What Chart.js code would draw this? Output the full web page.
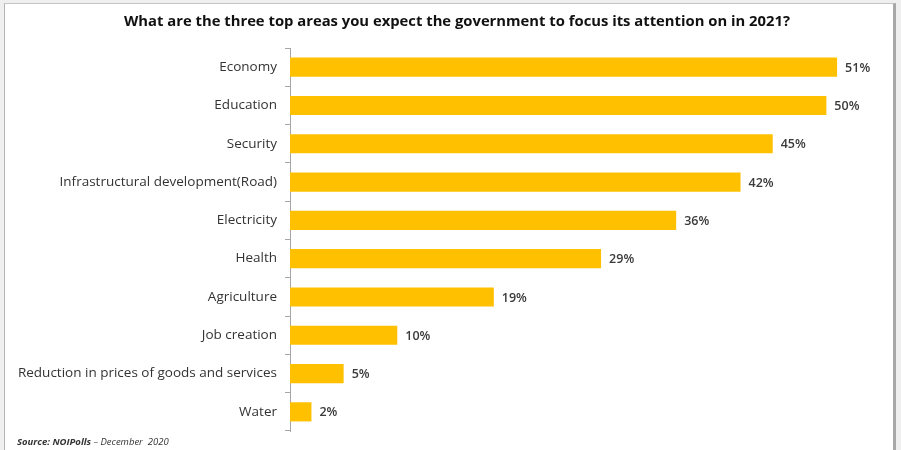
<!DOCTYPE html>
<html>
<head>
<meta charset="utf-8">
<script src="https://cdn.jsdelivr.net/npm/chart.js@4.4.1/dist/chart.umd.min.js"></script>
<style>
  html, body { margin: 0; padding: 0; background: #efefef; }
  #frame {
    position: absolute; left: 4px; top: 3px;
    width: 888px; height: 447px;
    background: #fff;
    border-left: 1px solid #b5b5b5;
    border-top: 1px solid #c4c4c4;
    border-right: 3px solid #a8a8a8;
  }
  canvas { display: block; }
</style>
</head>
<body>
<div id="frame"><canvas id="chart" width="888" height="447"></canvas></div>
<script>
// Chart data
const categories = [
  'Economy',
  'Education',
  'Security',
  'Infrastructural development(Road)',
  'Electricity',
  'Health',
  'Agriculture',
  'Job creation',
  'Reduction in prices of goods and services',
  'Water'
];
const percentages = [51, 50, 45, 42, 36, 29, 19, 10, 5, 2];

const titleText = 'What are the three top areas you expect the government to focus its attention on in 2021?';
const sourceBold = 'Source: NOIPolls';
const sourceRest = ' \u2013 December  2020';

// Title, value labels after each bar, and the source line
const annotations = {
  id: 'annotations',
  afterDatasetsDraw(chart) {
    const ctx = chart.ctx;
    const meta = chart.getDatasetMeta(0);
    ctx.save();

    // title (slightly right of canvas centre, as in the original)
    ctx.font = 'bold 14.8px "Open Sans"';
    ctx.fillStyle = '#111';
    ctx.textAlign = 'center';
    ctx.textBaseline = 'middle';
    ctx.fillText(titleText, 452, 18);

    ctx.font = '600 12.5px "Open Sans"';
    ctx.fillStyle = '#3a3a3a';
    ctx.textAlign = 'left';
    meta.data.forEach((bar, i) => {
      ctx.fillText(percentages[i] + '%', bar.x + 8, bar.y + 1);
    });

    // source note
    ctx.font = 'italic bold 9.5px "Open Sans"';
    ctx.fillStyle = '#333';
    ctx.textBaseline = 'alphabetic';
    ctx.fillText(sourceBold, 12, 441);
    const w = ctx.measureText(sourceBold).width;
    ctx.font = 'italic 9.5px "Open Sans"';
    ctx.fillText(sourceRest, 12 + w, 441);
    ctx.restore();
  }
};

new Chart(document.getElementById('chart'), {
  type: 'bar',
  data: {
    labels: categories,
    datasets: [{
      data: percentages,
      backgroundColor: '#FFC000',
      barPercentage: 0.5,
      categoryPercentage: 1
    }]
  },
  options: {
    indexAxis: 'y',
    responsive: false,
    animation: false,
    layout: { padding: { left: 0, right: 13, top: 44, bottom: 20 } },
    plugins: {
      legend: { display: false },
      tooltip: { enabled: false },
      title: { display: false }
    },
    scales: {
      x: {
        display: false,
        min: 0,
        max: 55
      },
      y: {
        afterFit(scale) { scale.width = 285; },
        grid: {
          drawOnChartArea: false,
          offset: true,
          tickLength: 5,
          color: '#a6a6a6'
        },
        border: { color: '#a6a6a6', width: 1 },
        ticks: {
          color: '#333',
          padding: 8,
          font: { family: '"Open Sans"', size: 13.5 }
        }
      }
    }
  },
  plugins: [annotations]
});
</script>
</body>
</html>
